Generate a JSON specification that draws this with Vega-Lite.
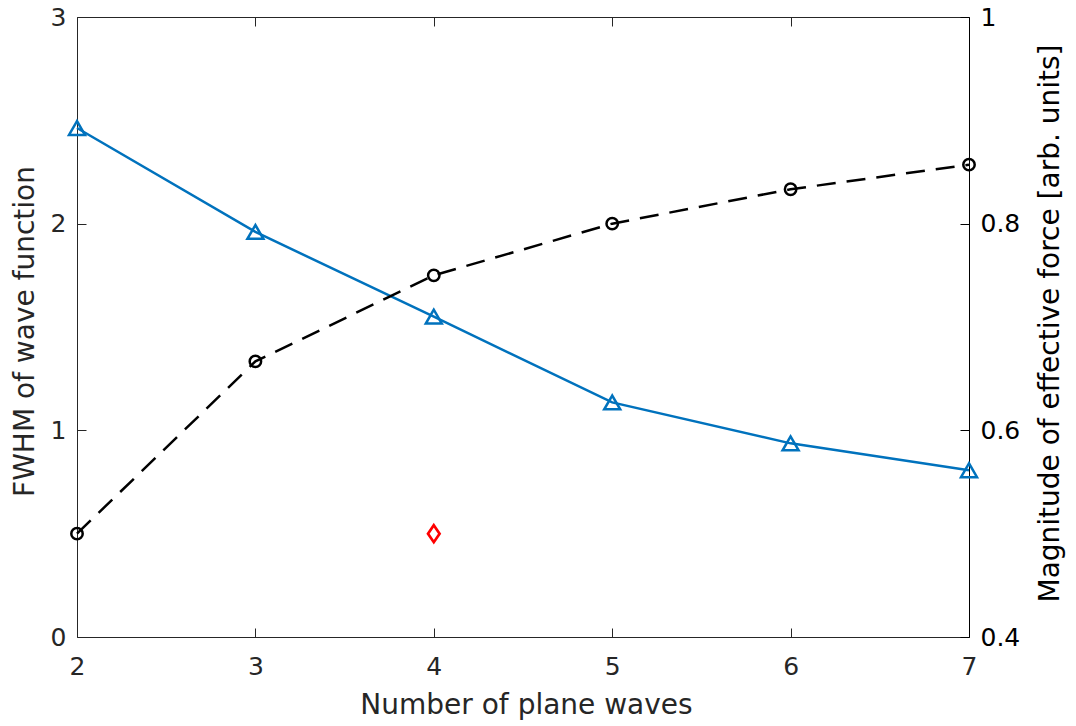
{
  "$schema": "https://vega.github.io/schema/vega-lite/v6.json",
  "width": 892,
  "height": 620,
  "autosize": {"type": "none"},
  "padding": {"left": 77, "top": 17, "right": 107, "bottom": 89},
  "background": "white",
  "config": {
    "view": {"stroke": null},
    "font": "DejaVu Sans",
    "axis": {
      "grid": false,
      "domainColor": "#262626",
      "tickColor": "#262626",
      "labelColor": "#262626",
      "titleColor": "#262626",
      "labelFontSize": 25,
      "titleFontSize": 28,
      "titleFontWeight": "normal",
      "labelFont": "DejaVu Sans",
      "titleFont": "DejaVu Sans",
      "labelFlush": false,
      "labelOverlap": false,
      "tickSize": -9,
      "domainWidth": 1,
      "tickWidth": 1,
      "labelPadding": 20
    }
  },
  "datasets": {
    "series": [
      {"n": 2, "fwhm": 2.463, "force": 0.5},
      {"n": 3, "fwhm": 1.96, "force": 0.6667},
      {"n": 4, "fwhm": 1.55, "force": 0.75},
      {"n": 5, "fwhm": 1.135, "force": 0.8},
      {"n": 6, "fwhm": 0.937, "force": 0.8333},
      {"n": 7, "fwhm": 0.807, "force": 0.8571}
    ],
    "marker": [{"n": 4, "fwhm": 0.5}]
  },
  "resolve": {"scale": {"y": "independent"}, "axis": {"x": "independent"}},
  "layer": [
    {
      "encoding": {
        "x": {
          "field": "n",
          "type": "quantitative",
          "scale": {"domain": [2, 7], "nice": false, "zero": false},
          "axis": {
            "orient": "bottom",
            "values": [2, 3, 4, 5, 6, 7],
            "labelPadding": 26,
            "title": "Number of plane waves",
            "titleX": 449,
            "titleY": 76,
            "titleAlign": "center",
            "titleBaseline": "alphabetic",
            "titleAnchor": null
          }
        },
        "y": {
          "field": "fwhm",
          "type": "quantitative",
          "scale": {"domain": [0, 3], "nice": false},
          "axis": {
            "orient": "left",
            "values": [0, 1, 2, 3],
            "title": "FWHM of wave function",
            "titleAngle": 270,
            "titleX": -44,
            "titleY": 314,
            "titleAlign": "center",
            "titleBaseline": "alphabetic",
            "titleAnchor": null
          }
        }
      },
      "layer": [
        {
          "data": {"name": "series"},
          "mark": {"type": "line", "color": "#0072BD", "strokeWidth": 2.5}
        },
        {
          "data": {"name": "series"},
          "mark": {"type": "point", "shape": "triangle-up", "filled": false, "color": "#0072BD", "strokeWidth": 2.5, "size": 256, "opacity": 1}
        },
        {
          "data": {"name": "marker"},
          "mark": {"type": "point", "shape": "M0,-1L0.68,0L0,1L-0.68,0Z", "filled": false, "color": "#FF0000", "strokeWidth": 2.7, "size": 290, "opacity": 1}
        }
      ]
    },
    {
      "data": {"name": "series"},
      "encoding": {
        "x": {
          "field": "n",
          "type": "quantitative",
          "scale": {"domain": [2, 7], "nice": false, "zero": false},
          "axis": {"orient": "top", "values": [2, 3, 4, 5, 6, 7], "labels": false, "title": null}
        },
        "y": {
          "field": "force",
          "type": "quantitative",
          "scale": {"domain": [0.4, 1], "nice": false, "zero": false},
          "axis": {
            "orient": "right",
            "values": [0.4, 0.6, 0.8, 1],
            "format": ".1~f",
            "title": "Magnitude of effective force [arb. units]",
            "domainColor": "#000000",
            "tickColor": "#000000",
            "labelColor": "#000000",
            "titleColor": "#000000",
            "titleAngle": 270,
            "titleX": 89,
            "titleY": 306,
            "titleAlign": "center",
            "titleBaseline": "alphabetic",
            "titleAnchor": null
          }
        }
      },
      "layer": [
        {
          "mark": {"type": "line", "color": "#000000", "strokeWidth": 2.5, "strokeDash": [19, 11]}
        },
        {
          "mark": {"type": "point", "shape": "circle", "filled": false, "color": "#000000", "strokeWidth": 2.5, "size": 130, "opacity": 1}
        }
      ]
    }
  ]
}
